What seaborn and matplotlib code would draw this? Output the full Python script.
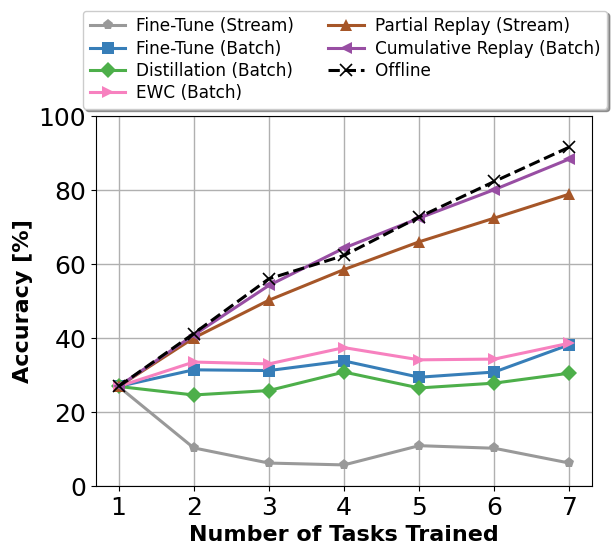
import matplotlib
matplotlib.use("Agg")
import matplotlib.pyplot as plt
import seaborn as sns
import pandas as pd

tasks = [1, 2, 3, 4, 5, 6, 7]
ft_stream = [26.9, 10.3, 6.2, 5.7, 10.9, 10.2, 6.2]
ft_batch = [26.9, 31.4, 31.2, 33.8, 29.4, 30.8, 38.2]
distill = [26.9, 24.6, 25.8, 30.8, 26.5, 27.8, 30.5]
ewc = [26.9, 33.5, 33.0, 37.4, 34.1, 34.3, 38.6]
partial = [26.9, 40.0, 50.2, 58.5, 66.0, 72.4, 78.9]
cumulative = [26.9, 40.8, 54.2, 64.3, 72.4, 80.1, 88.4]
offline = [26.9, 41.2, 56.0, 62.3, 72.7, 82.3, 91.6]

series = [
    ("Fine-Tune (Stream)", ft_stream, "#999999", "p", "-"),
    ("Fine-Tune (Batch)", ft_batch, "#377eb8", "s", "-"),
    ("Distillation (Batch)", distill, "#4daf4a", "D", "-"),
    ("EWC (Batch)", ewc, "#f781bf", ">", "-"),
    ("Partial Replay (Stream)", partial, "#a65628", "^", "-"),
    ("Cumulative Replay (Batch)", cumulative, "#984ea3", "<", "-"),
    ("Offline", offline, "black", "x", "--"),
]

fig = plt.figure(figsize=(6.16, 5.58), dpi=100)
ax = fig.add_axes([96/616, 1-486/558, (592-96)/616, (486-116)/558])

for name, vals, color, marker, ls in series:
    df = pd.DataFrame({"x": tasks, "y": vals})
    kw = dict(markersize=8)
    if marker == "x":
        kw.update(markersize=8, markeredgewidth=1.2, markeredgecolor="black")
    else:
        kw.update(markeredgewidth=0)
    sns.lineplot(data=df, x="x", y="y", ax=ax, color=color, marker=marker,
                 linestyle=ls, linewidth=2.2, label=name, **kw)

ax.set_xlim(0.7, 7.3)
ax.set_ylim(0, 100)
ax.set_xticks(tasks)
ax.set_yticks([0, 20, 40, 60, 80, 100])
ax.grid(True, color="#b0b0b0", linewidth=1)
ax.set_axisbelow(True)
ax.tick_params(labelsize=18)
ax.set_xlabel("Number of Tasks Trained", fontsize=16, fontweight="bold")
ax.set_ylabel("Accuracy [%]", fontsize=16, fontweight="bold")

ax.legend(loc="upper center", bbox_to_anchor=(345/616, 1-10.5/558), bbox_transform=fig.transFigure,
          ncol=2, fontsize=12.2, shadow=True, framealpha=1, borderaxespad=0,
          handlelength=2.1, handletextpad=0.65, columnspacing=2.0, labelspacing=0.25,
          edgecolor="#cccccc")

fig.savefig("out.png", dpi=100)
